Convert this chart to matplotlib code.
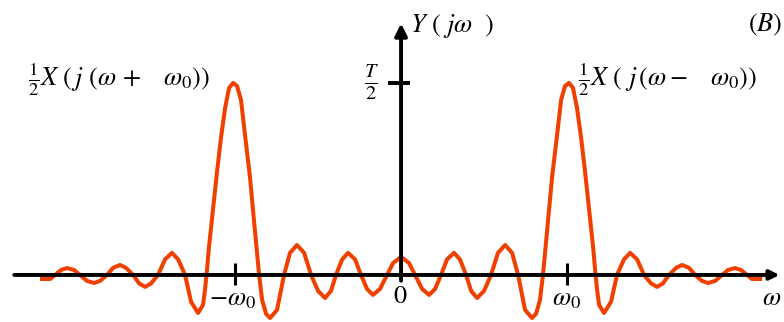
import matplotlib
matplotlib.use("Agg")
import matplotlib.pyplot as plt
import numpy as np

plt.rcParams['mathtext.fontset'] = 'stix'
plt.rcParams['font.family'] = ['Liberation Serif', 'DejaVu Serif']

# omega in units of omega_0, Y in units of T/2
w_left = [-2.163, -2.114, -2.084, -2.048, -2.012, -1.970, -1.934, -1.892, -1.849, -1.813,
          -1.771, -1.735, -1.693, -1.657, -1.614, -1.578, -1.542, -1.506, -1.464, -1.422,
          -1.380, -1.343, -1.301, -1.265, -1.223, -1.193, -1.181, -1.169, -1.157, -1.133,
          -1.108, -1.084, -1.060, -1.036, -1.012, -0.988, -0.964, -0.940, -0.910, -0.892,
          -0.873, -0.855, -0.837, -0.813, -0.789, -0.747, -0.705, -0.669, -0.627, -0.584,
          -0.542, -0.500, -0.458, -0.422, -0.392, -0.355, -0.319, -0.277, -0.241, -0.205,
          -0.169, -0.127, -0.084, -0.048, 0.0]
y_left = [-0.021, -0.021, 0.0, 0.026, 0.036, 0.026, 0.0, -0.031, -0.042, -0.031,
          0.0, 0.037, 0.052, 0.037, 0.0, -0.044, -0.062, -0.044, 0.0, 0.081,
          0.115, 0.081, 0.0, -0.140, -0.198, -0.156, -0.078, 0.026, 0.146, 0.339,
          0.542, 0.719, 0.870, 0.974, 1.000, 0.984, 0.911, 0.729, 0.510, 0.339,
          0.167, 0.0, -0.130, -0.203, -0.224, -0.182, 0.0, 0.115, 0.156, 0.115,
          0.0, -0.083, -0.120, -0.083, 0.0, 0.081, 0.115, 0.081, 0.0, -0.073,
          -0.104, -0.073, 0.0, 0.062, 0.094]
w_right = [0.048, 0.084, 0.127, 0.169, 0.205, 0.241, 0.277, 0.319, 0.355, 0.392,
           0.422, 0.458, 0.500, 0.542, 0.584, 0.627, 0.669, 0.705, 0.747, 0.789,
           0.813, 0.837, 0.855, 0.873, 0.892, 0.910, 0.940, 0.964, 0.988, 1.012,
           1.036, 1.060, 1.084, 1.108, 1.133, 1.157, 1.169, 1.181, 1.193, 1.223,
           1.265, 1.301, 1.343, 1.380, 1.422, 1.464, 1.506, 1.542, 1.578, 1.614,
           1.657, 1.693, 1.735, 1.771, 1.813, 1.849, 1.892, 1.934, 1.970, 2.012,
           2.048, 2.084, 2.114, 2.163]
y_right = [0.062, 0.0, -0.073, -0.104, -0.073, 0.0, 0.081, 0.115, 0.081, 0.0,
           -0.083, -0.120, -0.083, 0.0, 0.115, 0.156, 0.115, 0.0, -0.182, -0.224,
           -0.203, -0.130, 0.0, 0.167, 0.339, 0.510, 0.729, 0.911, 0.984, 1.000,
           0.974, 0.870, 0.719, 0.542, 0.339, 0.146, 0.026, -0.078, -0.156, -0.198,
           -0.140, 0.0, 0.081, 0.115, 0.081, 0.0, -0.044, -0.062, -0.044, 0.0,
           0.037, 0.052, 0.037, 0.0, -0.031, -0.042, -0.031, 0.0, 0.026, 0.036,
           0.026, 0.0, -0.021, -0.021]

omega = w_left + w_right
Y = y_left + y_right

fig = plt.figure(figsize=(7.84, 3.22), dpi=100)
ax = fig.add_axes([0, 0, 1, 1])
ax.set_xlim(-2.416, 2.307)
ax.set_ylim(-0.245, 1.432)
ax.axis('off')

ax.plot(omega, Y, color='#f04000', lw=2.9, zorder=2)

# axes with arrows
ax.annotate('', xy=(2.28, 0), xytext=(-2.33, 0),
            arrowprops=dict(arrowstyle='-|>', lw=2.8, color='black',
                            mutation_scale=14, shrinkA=0, shrinkB=0), zorder=3)
ax.annotate('', xy=(0, 1.31), xytext=(0, -0.03),
            arrowprops=dict(arrowstyle='-|>', lw=2.8, color='black',
                            mutation_scale=18, shrinkA=0, shrinkB=0), zorder=3)
ax.plot([-0.078, 0.054], [1, 1], color='black', lw=2.8, solid_capstyle='butt', zorder=3)
for w in (-1, 1):
    ax.plot([w, w], [-0.052, 0.0625], color='black', lw=2.2, solid_capstyle='butt', zorder=3)

fs = 19
fig.text(0.036, 0.752, r'$\frac{1}{2}X\ (\,j\ (\omega\,+\ \ \ \omega_0))$', fontsize=fs,
         ha='left', va='center')
fig.text(0.737, 0.752, r'$\frac{1}{2}X\ (\ j\,(\omega-\ \ \ \omega_0))$', fontsize=fs,
         ha='left', va='center')
fig.text(0.523, 0.919, r'$Y\ (\ j\omega\ \ )$', fontsize=fs, ha='left', va='center')
fig.text(0.474, 0.745, r'$\frac{T}{2}$', fontsize=fs + 2, ha='center', va='center')
fig.text(0.954, 0.922, r'$(B)$', fontsize=fs, ha='left', va='center')
fig.text(0.297, 0.068, r'$-\omega_0$', fontsize=fs, ha='center', va='center')
fig.text(0.511, 0.078, r'$0$', fontsize=fs, ha='center', va='center')
fig.text(0.722, 0.068, r'$\omega_0$', fontsize=fs, ha='center', va='center')
fig.text(0.972, 0.071, r'$\omega$', fontsize=fs, ha='left', va='center')

fig.savefig('out.png', dpi=100)
